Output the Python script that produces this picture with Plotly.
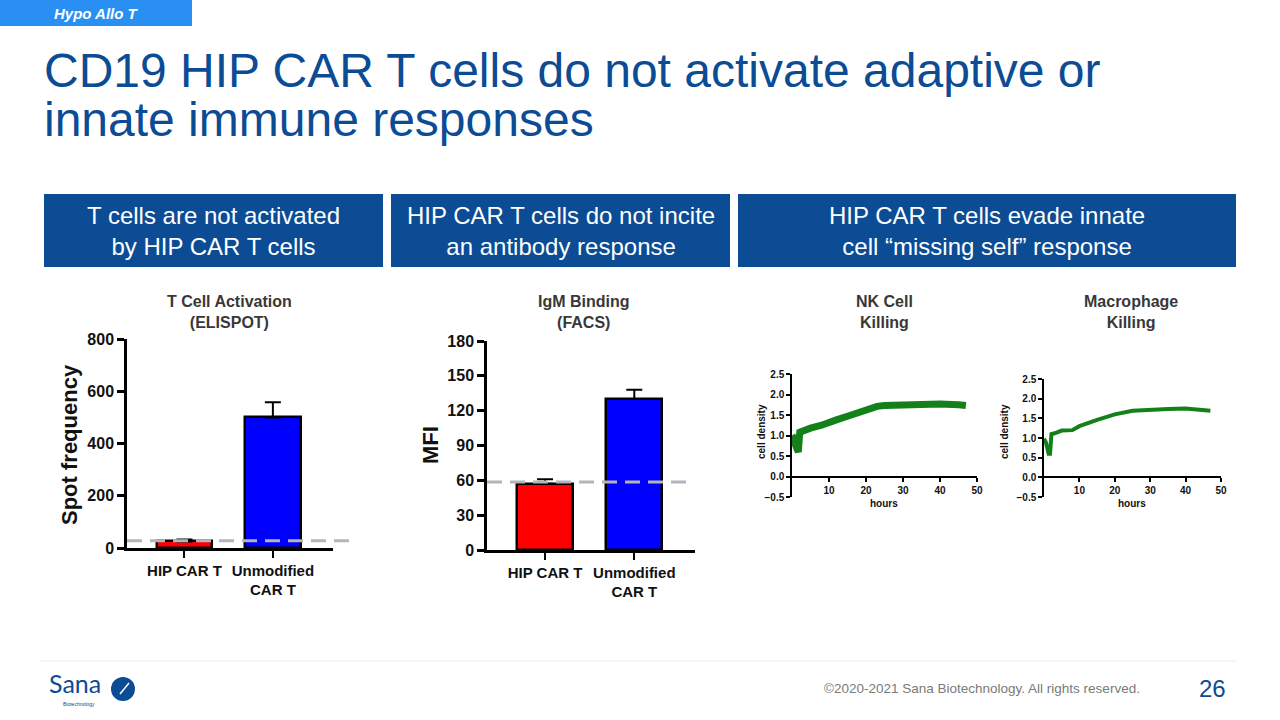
import plotly.graph_objects as go

# ---------------- data ----------------
bar_categories = ["HIP CAR T", "Unmodified<br>CAR T"]

elispot_values = [25, 500]
elispot_err = [8, 58]
elispot_baseline = 28
elispot_ticks = [0, 200, 400, 600, 800]

facs_values = [57, 130]
facs_err = [4, 8]
facs_baseline = 58.5
facs_ticks = [0, 30, 60, 90, 120, 150, 180]

nk_hours = [0, 0.5, 1.0, 1.3, 1.7, 2.1, 3, 5, 8, 10, 12, 15, 18, 20, 23, 25, 30, 35, 40, 45, 47]
nk_density = [1.0, 0.93, 0.75, 0.6, 0.6, 1.08, 1.12, 1.18, 1.25, 1.33, 1.38, 1.47, 1.57, 1.65, 1.71, 1.73, 1.75, 1.77, 1.77, 1.75, 1.73]

mac_hours = [0, 0.5, 1.0, 1.3, 1.7, 2.1, 3, 5, 8, 10, 15, 20, 25, 30, 35, 40, 45, 47]
mac_density = [0.98, 0.9, 0.72, 0.6, 0.6, 1.1, 1.12, 1.19, 1.2, 1.3, 1.46, 1.6, 1.69, 1.72, 1.74, 1.75, 1.72, 1.69]

line_yticks = [-0.5, 0.0, 0.5, 1.0, 1.5, 2.0, 2.5]
line_xticks = [10, 20, 30, 40, 50]

header_texts = [
    "T cells are not activated<br>by HIP CAR T cells",
    "HIP CAR T cells do not incite<br>an antibody response",
    "HIP CAR T cells evade innate<br>cell \u201cmissing self\u201d response",
]
panel_titles = [
    "T Cell Activation<br>(ELISPOT)",
    "IgM Binding<br>(FACS)",
    "NK Cell<br>Killing",
    "Macrophage<br>Killing",
]

# ---------------- layout helpers ----------------
W, H = 1280, 720
FONT = "Liberation Sans, Arial, sans-serif"
NAVY = "#0b4c95"
GREEN = "#13801a"


def px(x):
    return x / W


def py(y):
    return 1 - y / H


fig = go.Figure()

bar_colors = ["#ff0000", "#0000ff"]
fig.add_trace(go.Bar(
    x=[0, 1], y=elispot_values, width=0.63,
    marker=dict(color=bar_colors, line=dict(color="black", width=2.5)),
    error_y=dict(type="data", array=elispot_err, arrayminus=[0, 0], symmetric=False,
                 color="black", thickness=2, width=8),
    xaxis="x", yaxis="y", showlegend=False))
fig.add_trace(go.Bar(
    x=[0, 1], y=facs_values, width=0.63,
    marker=dict(color=bar_colors, line=dict(color="black", width=2.5)),
    error_y=dict(type="data", array=facs_err, arrayminus=[0, 0], symmetric=False,
                 color="black", thickness=2, width=8),
    xaxis="x2", yaxis="y2", showlegend=False))

fig.add_trace(go.Scatter(x=nk_hours, y=nk_density, mode="lines",
                         line=dict(color=GREEN, width=7), xaxis="x3", yaxis="y3",
                         showlegend=False))
fig.add_trace(go.Scatter(x=mac_hours, y=mac_density, mode="lines",
                         line=dict(color=GREEN, width=4), xaxis="x4", yaxis="y4",
                         showlegend=False))

bar_x_common = dict(
    range=[-0.65, 1.68], tickvals=[0, 1], ticktext=bar_categories,
    showline=True, linecolor="black", linewidth=2.5,
    ticks="outside", ticklen=7, tickwidth=2, tickcolor="black",
    showgrid=False, zeroline=False, fixedrange=True,
    tickfont=dict(family=FONT, size=15, color="#111", weight="bold"),
)
bar_y_common = dict(
    showline=True, linecolor="black", linewidth=2.5,
    ticks="outside", ticklen=7, tickwidth=2.5, tickcolor="black",
    showgrid=False, zeroline=False, fixedrange=True,
    tickfont=dict(family=FONT, size=16, color="#111", weight="bold"),
)
line_x_common = dict(
    range=[0, 50], tickvals=line_xticks,
    showline=True, linecolor="black", linewidth=1.5,
    ticks="outside", ticklen=4, tickwidth=1.5, tickcolor="black",
    showgrid=False, zeroline=False, anchor="free", position=py(477),
    tickfont=dict(family=FONT, size=10, color="#111", weight="bold"),
)
line_y_common = dict(
    range=[-0.5, 2.5], tickvals=line_yticks, tickformat=".1f",
    showline=True, linecolor="black", linewidth=1.5,
    ticks="outside", ticklen=4, tickwidth=1.5, tickcolor="black",
    showgrid=False, zeroline=False,
    tickfont=dict(family=FONT, size=10, color="#111", weight="bold"),
)

fig.update_layout(
    width=W, height=H,
    margin=dict(l=0, r=0, t=0, b=0, pad=0, autoexpand=False),
    paper_bgcolor="white", plot_bgcolor="rgba(0,0,0,0)",
    font=dict(family=FONT),
    xaxis=dict(domain=[px(127), px(333)], anchor="y", **bar_x_common),
    yaxis=dict(domain=[py(548), py(339)], anchor="x", range=[0, 800],
               tickvals=elispot_ticks, **bar_y_common),
    xaxis2=dict(domain=[px(487), px(695)], anchor="y2", **bar_x_common),
    yaxis2=dict(domain=[py(550), py(341)], anchor="x2", range=[0, 180],
                tickvals=facs_ticks, **bar_y_common),
    xaxis3=dict(domain=[px(792), px(977)], **line_x_common),
    yaxis3=dict(domain=[py(497), py(374)], anchor="x3", **line_y_common),
    xaxis4=dict(domain=[px(1044), px(1221)], **line_x_common),
    yaxis4=dict(domain=[py(497), py(379)], anchor="x4", **line_y_common),
    bargap=0,
)

shapes = []
shapes.append(dict(type="rect", xref="paper", yref="paper", x0=px(0), x1=px(192),
                   y0=py(26), y1=py(0), fillcolor="#2a8ff2", line=dict(width=0), layer="below"))
for (x0, x1) in [(44, 383), (391, 730), (738, 1236)]:
    shapes.append(dict(type="rect", xref="paper", yref="paper", x0=px(x0), x1=px(x1),
                       y0=py(267), y1=py(194), fillcolor=NAVY, line=dict(width=0), layer="below"))
shapes.append(dict(type="line", xref="paper", yref="y", x0=px(127), x1=px(353),
                   y0=elispot_baseline, y1=elispot_baseline,
                   line=dict(color="#b4b4bc", width=3, dash="15px,8px")))
shapes.append(dict(type="line", xref="paper", yref="y2", x0=px(487), x1=px(686),
                   y0=facs_baseline, y1=facs_baseline,
                   line=dict(color="#b4b4bc", width=3, dash="15px,8px")))
shapes.append(dict(type="line", xref="paper", yref="paper", x0=px(40), x1=px(1236),
                   y0=py(661), y1=py(661), line=dict(color="#ececec", width=1)))
shapes.append(dict(type="circle", xref="paper", yref="paper", x0=px(111), x1=px(135),
                   y0=py(701), y1=py(677), fillcolor=NAVY, line=dict(width=0)))
shapes.append(dict(type="line", xref="paper", yref="paper", x0=px(120), x1=px(129),
                   y0=py(694), y1=py(683), line=dict(color="white", width=1.5)))
fig.update_layout(shapes=shapes)


def note(x, y, text, size, color, xanchor="center", yanchor="middle", angle=0, family=FONT):
    return dict(x=px(x), y=py(y), text=text, showarrow=False, xref="paper", yref="paper",
                xanchor=xanchor, yanchor=yanchor, textangle=angle,
                font=dict(family=family, size=size, color=color))


ann = []
ann.append(note(96, 13, "<b><i>Hypo Allo T</i></b>", 15, "white"))
ann.append(note(42, 71, "CD19 HIP CAR T cells do not activate adaptive or", 48, NAVY, xanchor="left"))
ann.append(note(42, 120, "innate immune responses", 48, NAVY, xanchor="left"))
for cx, t in zip([213.5, 560.5, 987], header_texts):
    ann.append(note(cx, 231, t, 24, "white"))
for cx, t in zip([229, 584, 884, 1131], panel_titles):
    ann.append(note(cx, 312, "<b>" + t + "</b>", 16, "#383838"))
ann.append(note(69, 445, "<b>Spot frequency</b>", 22, "#111", angle=-90))
ann.append(note(430, 445, "<b>MFI</b>", 22, "#111", angle=-90))
for cx in [761, 1004]:
    ann.append(note(cx, 432, "<b>cell density</b>", 10, "#111", angle=-90))
for cx in [884, 1132]:
    ann.append(note(cx, 504, "<b>hours</b>", 10, "#111"))
ann.append(note(47, 683, "Sana", 25, NAVY, xanchor="left", family="Lato, Noto Sans, sans-serif"))
ann.append(note(79, 704, "Biotechnology", 5, NAVY))
ann.append(note(1142, 688, "\u00a92020-2021 Sana Biotechnology. All rights reserved.", 13.5, "#7a7a7a",
                xanchor="right"))
ann.append(note(1212, 688, "26", 24, NAVY))
fig.update_layout(annotations=ann)

fig.write_html("out.html", config={"displayModeBar": False})
